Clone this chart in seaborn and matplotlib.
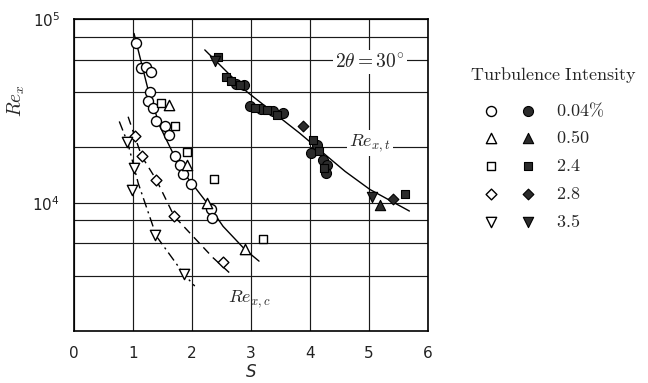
import numpy as np
import pandas as pd
import matplotlib
matplotlib.use("Agg")
import matplotlib.pyplot as plt
import seaborn as sns
from matplotlib.ticker import FixedLocator, NullFormatter

sns.set_theme(style="white")
plt.rcParams["mathtext.fontset"] = "cm"
plt.rcParams["font.family"] = ["DejaVu Sans"]

# ---- open symbols: Re_x,c (transition onset) ----
circle_open_S = [1.05, 1.13, 1.22, 1.30, 1.29, 1.26, 1.34, 1.40, 1.55, 1.61, 1.71, 1.80, 1.85, 1.99, 2.33, 2.34]
circle_open_Re = [74000, 54000, 55000, 51500, 40300, 35600, 32700, 27700, 26200, 23400, 17900, 16100, 14400, 12600, 9200, 8200]
tri_open_S = [1.61, 1.91, 2.25, 2.90]
tri_open_Re = [34100, 16100, 10000, 5560]
square_open_S = [1.47, 1.72, 1.92, 2.38, 3.21]
square_open_Re = [34800, 26200, 18800, 13500, 6350]
diamond_open_S = [1.03, 1.15, 1.40, 1.70, 2.53]
diamond_open_Re = [23100, 17900, 13300, 8440, 4750]
tridown_open_S = [0.90, 1.02, 0.99, 1.37, 1.87]
tridown_open_Re = [21300, 15500, 11700, 6700, 4060]

# ---- filled symbols: Re_x,t (end of transition) ----
circle_fill_S = [2.75, 2.88, 2.98, 3.18, 3.38, 3.55, 4.12, 4.02, 4.22, 4.30, 4.28]
circle_fill_Re = [44500, 43800, 33700, 32500, 31500, 30800, 20500, 18600, 17000, 16100, 14500]
tri_fill_S = [5.19]
tri_fill_Re = [9750]
square_fill_S = [2.45, 2.58, 2.66, 2.81, 3.08, 3.28, 3.45, 4.06, 4.15, 4.25, 5.61]
square_fill_Re = [62000, 48200, 46000, 44000, 33000, 32000, 30100, 22000, 19000, 15500, 11200]
diamond_fill_S = [3.89, 5.41]
diamond_fill_Re = [26200, 10500]
tridown_fill_S = [2.39, 5.05]
tridown_fill_Re = [59000, 10800]

# ---- correlation curves ----
curve_c_S = [1.02, 1.26, 1.46, 1.68, 1.91, 2.25, 2.53, 2.90, 3.14]
curve_c_Re = [83600, 41100, 26000, 18600, 13900, 10040, 7430, 5560, 4800]
curve_c28_S = [0.92, 1.03, 1.15, 1.40, 1.70, 2.36, 2.67]
curve_c28_Re = [29400, 23100, 17900, 13300, 8440, 5010, 4060]
curve_c35_S = [0.77, 0.915, 1.09, 1.40, 1.87, 2.05]
curve_c35_Re = [27700, 21100, 12800, 6560, 4060, 3510]
curve_t_S = [2.22, 2.93, 3.83, 4.60, 5.02, 5.69]
curve_t_Re = [68000, 40300, 23900, 14800, 11800, 9000]

intensity_labels = ["0.04%", "0.50", "2.4", "2.8", "3.5"]
marker_shapes = ["o", "^", "s", "D", "v"]
marker_sizes = [52, 55, 40, 30, 55]

open_sets = [(circle_open_S, circle_open_Re), (tri_open_S, tri_open_Re),
             (square_open_S, square_open_Re), (diamond_open_S, diamond_open_Re),
             (tridown_open_S, tridown_open_Re)]
fill_sets = [(circle_fill_S, circle_fill_Re), (tri_fill_S, tri_fill_Re),
             (square_fill_S, square_fill_Re), (diamond_fill_S, diamond_fill_Re),
             (tridown_fill_S, tridown_fill_Re)]

FILL = "#2b2b2b"

fig = plt.figure(figsize=(6.48, 3.83), dpi=100)
ax = fig.add_axes([0.114, 0.136, 0.546, 0.814])
ax.set_yscale("log")
ax.set_xlim(0, 6)
ax.set_ylim(2000, 100000)

# grid
ax.set_xticks(range(0, 7))
ax.yaxis.set_major_locator(FixedLocator([1e4, 1e5]))
ax.yaxis.set_minor_locator(FixedLocator([4000, 6000, 8000, 20000, 40000, 60000, 80000]))
ax.yaxis.set_minor_formatter(NullFormatter())
ax.grid(True, which="both", axis="y", color="#1a1a1a", lw=0.85)
ax.grid(True, which="major", axis="x", color="#1a1a1a", lw=0.85)
ax.set_axisbelow(True)

# curves
line_kw = dict(color="black", lw=1.0, estimator=None, sort=False, ax=ax, legend=False, zorder=2)
sns.lineplot(x=curve_c_S, y=curve_c_Re, linestyle="-", **line_kw)
sns.lineplot(x=curve_t_S, y=curve_t_Re, linestyle="-", **line_kw)
ln28 = sns.lineplot(x=curve_c28_S, y=curve_c28_Re, **line_kw).lines[-1]
ln28.set_dashes([6, 4])
ln35 = sns.lineplot(x=curve_c35_S, y=curve_c35_Re, **line_kw).lines[-1]
ln35.set_dashes([7, 3, 1.5, 3])

# data points
for (xs, ys), m, s in zip(open_sets, marker_shapes, marker_sizes):
    sns.scatterplot(x=xs, y=ys, marker=m, s=s, facecolor="white", edgecolor="black",
                    linewidth=1.0, ax=ax, legend=False, zorder=3)
for (xs, ys), m, s in zip(fill_sets, marker_shapes, marker_sizes):
    sns.scatterplot(x=xs, y=ys, marker=m, s=s, facecolor=FILL, edgecolor="black",
                    linewidth=0.8, ax=ax, legend=False, zorder=4)

# annotations
box = dict(facecolor="white", edgecolor="none", pad=1.5)
ax.text(5.02, 58400, r"$2\theta = 30^{\circ}$", fontsize=14, ha="center", va="center", bbox=box, zorder=5)
ax.text(5.02, 21200, r"$Re_{x,t}$", fontsize=13, ha="center", va="center", bbox=box, zorder=5)
ax.text(2.98, 2970, r"$Re_{x,c}$", fontsize=13, ha="center", va="center", zorder=5)

for sp in ax.spines.values():
    sp.set_color("black")
    sp.set_linewidth(1.2)
ax.tick_params(axis="both", which="both", direction="in", length=4, color="black",
               labelsize=11, labelcolor="#222222")
ax.tick_params(axis="x", pad=11)
ax.tick_params(axis="y", pad=10)
ax.set_xlabel("S", fontsize=12, style="italic", labelpad=1)
ax.set_ylabel(r"$Re_x$", fontsize=14)
ax.yaxis.set_label_coords(-0.133, 0.74)

# legend panel drawn in pixel coordinates
lg = fig.add_axes([0, 0, 1, 1], zorder=-1)
lg.set_xlim(0, 648)
lg.set_ylim(383, 0)
lg.axis("off")
lg.text(553, 75, r"$\mathrm{Turbulence\ Intensity}$", fontsize=13, ha="center", va="center")
rows_y = [111, 138, 166, 194, 222]
for yy, lab, m, s in zip(rows_y, intensity_labels, marker_shapes, marker_sizes):
    lg.scatter([491], [yy], marker=m, s=s, facecolor="white", edgecolor="black", linewidth=1.0)
    lg.scatter([528], [yy], marker=m, s=s, facecolor=FILL, edgecolor="black", linewidth=0.8)
    lg.text(556, yy, r"$\mathrm{" + lab.replace("%", r"\%") + "}$", fontsize=13, ha="left", va="center")

fig.savefig("out.png", dpi=100, facecolor="white")
